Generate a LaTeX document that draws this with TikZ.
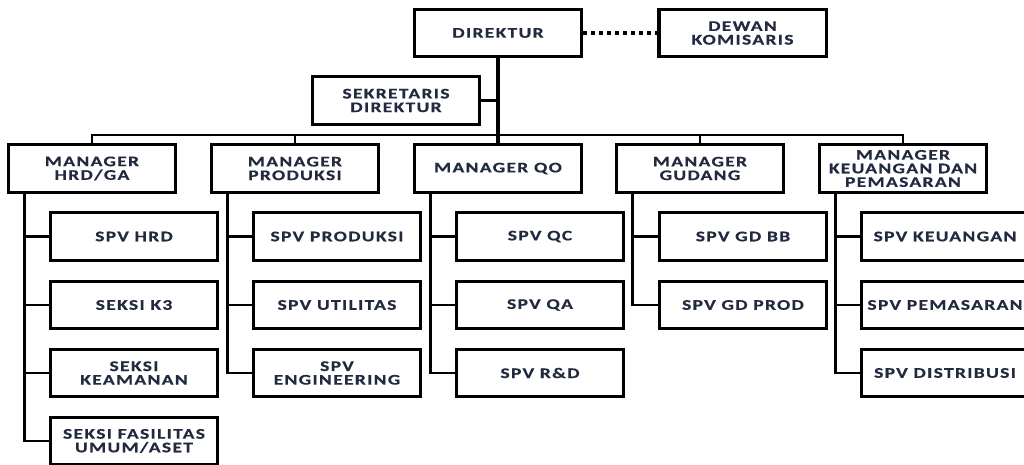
\documentclass[tikz,border=0pt]{standalone}
\usepackage{fontspec}
\setmainfont{Carlito}
\newfontfamily\orgfont{Carlito}[FakeStretch=1.33, LetterSpace=9, FakeBold=0.5]
\usetikzlibrary{positioning, calc}
\definecolor{cText}{RGB}{34,42,64}
\tikzset{
	unit/.style ={rectangle, draw=black, line width=2.5pt, fill=white, minimum width=125.5pt, minimum height=35.6pt, inner sep=0pt, align=center, text=cText, font=\orgfont\bfseries\fontsize{11}{10.2}\selectfont},
	link/.style ={line width=1.8pt},
	spine/.style={line width=3.6pt},
	dots/.style ={line width=2.4pt, dash pattern=on 2.8pt off 3.2pt},
}
\begin{document}
\begin{tikzpicture}[x=0.75pt, y=-0.75pt]
	\useasboundingbox (0,0) rectangle (1024,464);
	% top level
	\node[unit] (dir) at (498,33) {DIREKTUR};
	\node[unit] (dewan) at (742.5,33) {DEWAN\\KOMISARIS};
	\node[unit] (sek) at (396,100.5) {SEKRETARIS\\DIREKTUR};
	% managers
	\node[unit] (mhrd) at (92,168.5) {MANAGER\\HRD/GA};
	\node[unit] (mprod) at (295,168.5) {MANAGER\\PRODUKSI};
	\node[unit] (mqo) at (498,168.5) {MANAGER QO};
	\node[unit] (mgud) at (700,168.5) {MANAGER\\GUDANG};
	\node[unit] (mkeu) at (903,168.5) {MANAGER\\KEUANGAN DAN\\PEMASARAN};
	% supervisors
	\node[unit] (hrd1) at (134,236.5) {SPV HRD};
	\node[unit] (hrd2) at (134,305) {SEKSI K3};
	\node[unit] (hrd3) at (134,373) {SEKSI\\KEAMANAN};
	\node[unit] (hrd4) at (134,441) {SEKSI FASILITAS\\UMUM/ASET};
	\node[unit] (prod1) at (337,236.5) {SPV PRODUKSI};
	\node[unit] (prod2) at (337,305) {SPV UTILITAS};
	\node[unit] (prod3) at (337,373) {SPV\\ENGINEERING};
	\node[unit] (qo1) at (540,236.5) {SPV QC};
	\node[unit] (qo2) at (540,305) {SPV QA};
	\node[unit] (qo3) at (540,373) {SPV R\&D};
	\node[unit] (gud1) at (743,236.5) {SPV GD BB};
	\node[unit] (gud2) at (743,305) {SPV GD PROD};
	\node[unit] (keu1) at (945,236.5) {SPV KEUANGAN};
	\node[unit] (keu2) at (945,305) {SPV PEMASARAN};
	\node[unit] (keu3) at (945,373) {SPV DISTRIBUSI};
	% lines
	\draw[dots] (dir.east) -- (dewan.west);
	\draw[spine] (dir.south) -- (mqo.north);
	\draw[link] (sek.east) -- (sek.east -| dir.south);
	\coordinate (bus) at (0,135);
	\draw[link] (mhrd.north) -- (mhrd.north |- bus) -- (mkeu.north |- bus) -- (mkeu.north);
	\draw[link] (mprod.north |- bus) -- (mprod.north);
	\draw[link] (mgud.north |- bus) -- (mgud.north);
	\foreach \m/\last/\rest in {mhrd/hrd4/{hrd1,hrd2,hrd3}, mprod/prod3/{prod1,prod2}, mqo/qo3/{qo1,qo2}, mgud/gud2/{gud1}, mkeu/keu3/{keu1,keu2}}{
		\coordinate (b) at ($(\m.south west)+(18,0)$);
		\draw[link] (b) |- (\last.west);
		\foreach \s in \rest
			\draw[link] (b |- \s.west) -- (\s.west);
	}
\end{tikzpicture}
\end{document}
